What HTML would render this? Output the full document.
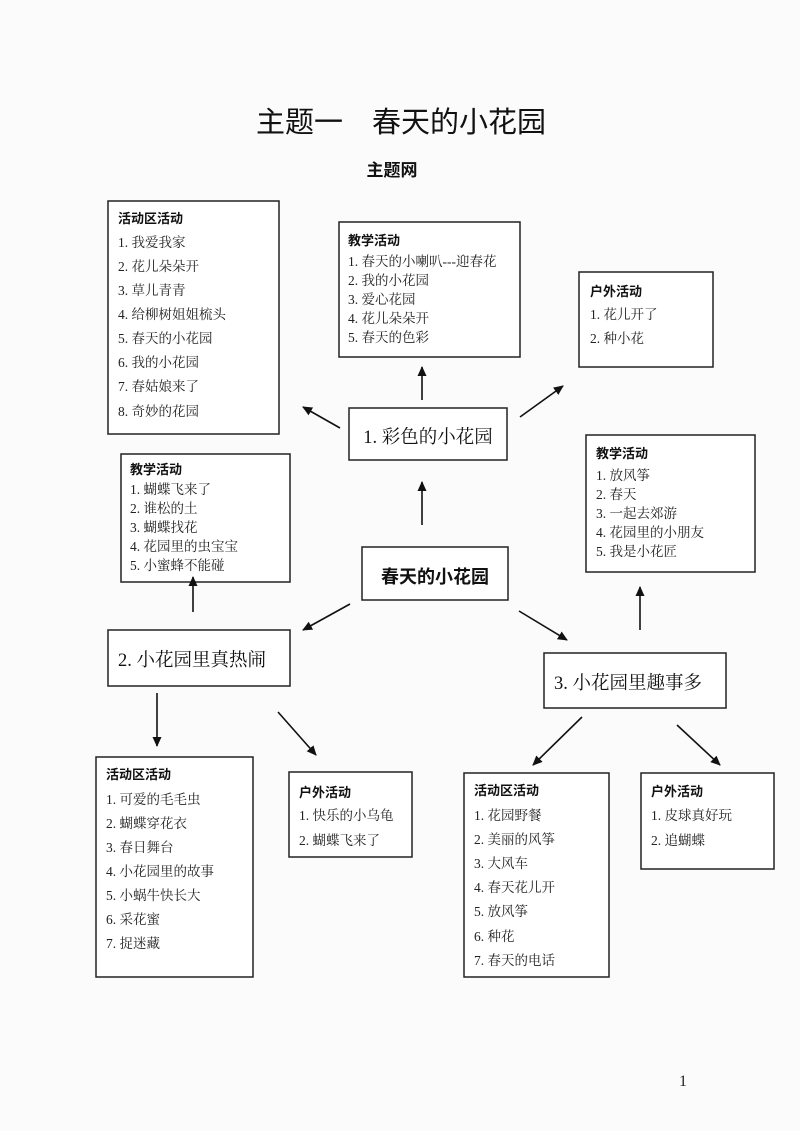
<!DOCTYPE html>
<html><head><meta charset="utf-8"><style>
html,body{margin:0;padding:0;background:#fbfbfb;}
svg{display:block}
.h{font-family:"Liberation Sans","Noto Sans CJK SC",sans-serif;font-weight:bold;font-size:13px;fill:#111}
.i{font-family:"Liberation Serif","Noto Serif CJK SC",serif;font-size:13.5px;fill:#222}
.b{font-family:"Liberation Sans","Noto Sans CJK SC",sans-serif;font-weight:bold;font-size:18px;fill:#111}
.s{font-family:"Liberation Serif","Noto Serif CJK SC",serif;font-size:18.5px;fill:#111}
.r{fill:#fff;stroke:#222;stroke-width:1.5}
.a{stroke:#111;stroke-width:1.6;marker-end:url(#m)}
</style></head><body>
<svg width="800" height="1131" viewBox="0 0 800 1131" xmlns="http://www.w3.org/2000/svg">
<defs><marker id="m" markerWidth="10" markerHeight="10" refX="9" refY="5" orient="auto" markerUnits="userSpaceOnUse"><path d="M0,0.5 L10,5 L0,9.5 z" fill="#111"/></marker></defs>
<text x="401" y="132" text-anchor="middle" font-family="Liberation Sans,Noto Sans CJK SC,sans-serif" font-size="29" fill="#111">主题一　春天的小花园</text>
<text x="392" y="176" text-anchor="middle" class="h" style="font-size:17px">主题网</text>

<rect class="r" x="108" y="201" width="171" height="233"/>
<text class="h" x="118" y="223">活动区活动</text>
<text class="i" x="118" y="247">1. 我爱我家</text>
<text class="i" x="118" y="271">2. 花儿朵朵开</text>
<text class="i" x="118" y="295">3. 草儿青青</text>
<text class="i" x="118" y="319">4. 给柳树姐姐梳头</text>
<text class="i" x="118" y="343">5. 春天的小花园</text>
<text class="i" x="118" y="367">6. 我的小花园</text>
<text class="i" x="118" y="391">7. 春姑娘来了</text>
<text class="i" x="118" y="416">8. 奇妙的花园</text>

<rect class="r" x="339" y="222" width="181" height="135"/>
<text class="h" x="348" y="245">教学活动</text>
<text class="i" x="348" y="266">1. 春天的小喇叭---迎春花</text>
<text class="i" x="348" y="285">2. 我的小花园</text>
<text class="i" x="348" y="304">3. 爱心花园</text>
<text class="i" x="348" y="323">4. 花儿朵朵开</text>
<text class="i" x="348" y="342">5. 春天的色彩</text>

<rect class="r" x="579" y="272" width="134" height="95"/>
<text class="h" x="590" y="296">户外活动</text>
<text class="i" x="590" y="319">1. 花儿开了</text>
<text class="i" x="590" y="343">2. 种小花</text>

<rect class="r" x="349" y="408" width="158" height="52"/>
<text class="s" x="428" y="443" text-anchor="middle">1. 彩色的小花园</text>

<rect class="r" x="121" y="454" width="169" height="128"/>
<text class="h" x="130" y="474">教学活动</text>
<text class="i" x="130" y="494">1. 蝴蝶飞来了</text>
<text class="i" x="130" y="513">2. 谁松的土</text>
<text class="i" x="130" y="532">3. 蝴蝶找花</text>
<text class="i" x="130" y="551">4. 花园里的虫宝宝</text>
<text class="i" x="130" y="570">5. 小蜜蜂不能碰</text>

<rect class="r" x="586" y="435" width="169" height="137"/>
<text class="h" x="596" y="458">教学活动</text>
<text class="i" x="596" y="480">1. 放风筝</text>
<text class="i" x="596" y="499">2. 春天</text>
<text class="i" x="596" y="518">3. 一起去郊游</text>
<text class="i" x="596" y="537">4. 花园里的小朋友</text>
<text class="i" x="596" y="556">5. 我是小花匠</text>

<rect class="r" x="362" y="547" width="146" height="53"/>
<text class="b" x="435" y="583" text-anchor="middle">春天的小花园</text>

<rect class="r" x="108" y="630" width="182" height="56"/>
<text class="s" x="118" y="666">2. 小花园里真热闹</text>

<rect class="r" x="544" y="653" width="182" height="55"/>
<text class="s" x="554" y="689">3. 小花园里趣事多</text>

<rect class="r" x="96" y="757" width="157" height="220"/>
<text class="h" x="106" y="779">活动区活动</text>
<text class="i" x="106" y="804">1. 可爱的毛毛虫</text>
<text class="i" x="106" y="828">2. 蝴蝶穿花衣</text>
<text class="i" x="106" y="852">3. 春日舞台</text>
<text class="i" x="106" y="876">4. 小花园里的故事</text>
<text class="i" x="106" y="900">5. 小蜗牛快长大</text>
<text class="i" x="106" y="924">6. 采花蜜</text>
<text class="i" x="106" y="948">7. 捉迷藏</text>

<rect class="r" x="289" y="772" width="123" height="85"/>
<text class="h" x="299" y="797">户外活动</text>
<text class="i" x="299" y="820">1. 快乐的小乌龟</text>
<text class="i" x="299" y="845">2. 蝴蝶飞来了</text>

<rect class="r" x="464" y="773" width="145" height="204"/>
<text class="h" x="474" y="795">活动区活动</text>
<text class="i" x="474" y="820">1. 花园野餐</text>
<text class="i" x="474" y="844">2. 美丽的风筝</text>
<text class="i" x="474" y="868">3. 大风车</text>
<text class="i" x="474" y="892">4. 春天花儿开</text>
<text class="i" x="474" y="916">5. 放风筝</text>
<text class="i" x="474" y="941">6. 种花</text>
<text class="i" x="474" y="965">7. 春天的电话</text>

<rect class="r" x="641" y="773" width="133" height="96"/>
<text class="h" x="651" y="796">户外活动</text>
<text class="i" x="651" y="820">1. 皮球真好玩</text>
<text class="i" x="651" y="845">2. 追蝴蝶</text>

<line class="a" x1="340" y1="428" x2="303" y2="407"/>
<line class="a" x1="422" y1="400" x2="422" y2="367"/>
<line class="a" x1="520" y1="417" x2="563" y2="386"/>
<line class="a" x1="422" y1="525" x2="422" y2="482"/>
<line class="a" x1="193" y1="612" x2="193" y2="577"/>
<line class="a" x1="350" y1="604" x2="303" y2="630"/>
<line class="a" x1="519" y1="611" x2="567" y2="640"/>
<line class="a" x1="157" y1="693" x2="157" y2="746"/>
<line class="a" x1="278" y1="712" x2="316" y2="755"/>
<line class="a" x1="640" y1="630" x2="640" y2="587"/>
<line class="a" x1="582" y1="717" x2="533" y2="765"/>
<line class="a" x1="677" y1="725" x2="720" y2="765"/>

<text x="683" y="1086" text-anchor="middle" font-family="Liberation Serif,serif" font-size="16" fill="#222">1</text>
</svg>
</body></html>
